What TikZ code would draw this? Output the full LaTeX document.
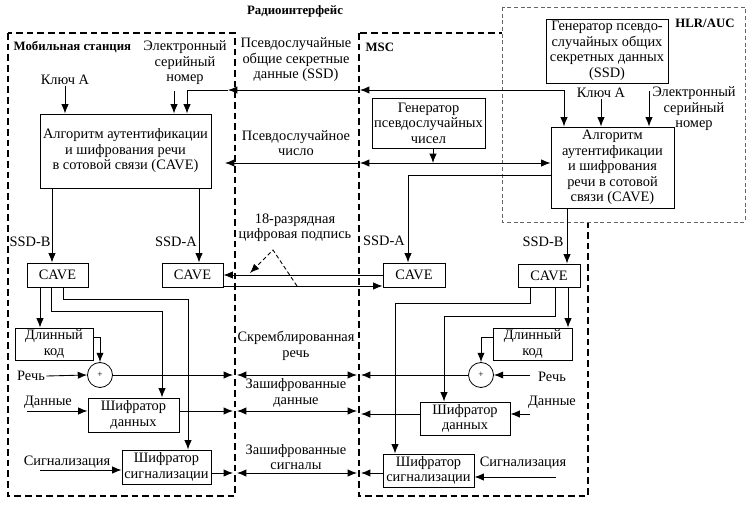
\documentclass[tikz,border=0pt]{standalone}
\usepackage{fontspec}
\setmainfont{Liberation Serif}
\usetikzlibrary{arrows.meta,calc}
\tikzset{
 every node/.style={font=\fontsize{10.8}{11.6}\selectfont},
 box/.style={draw, align=center, inner sep=0pt, line width=0.7pt},
 lbl/.style={align=center, inner sep=1pt},
 ttl/.style={font=\fontsize{9.6}{11.5}\selectfont\bfseries, inner sep=1pt},
 con/.style={line width=0.65pt},
 arr/.style={con, -{Latex[length=7pt,width=5.5pt]}},
 darr/.style={con, {Latex[length=7pt,width=5.5pt]}-{Latex[length=7pt,width=5.5pt]}},
 zone/.style={line width=1.2pt, dash pattern=on 5pt off 3pt},
 hlrzone/.style={line width=0.6pt, dash pattern=on 3pt off 2pt, draw=black!60, fill=white},
 plus/.style={draw, circle, minimum size=18.75pt, inner sep=0pt, line width=0.6pt, font=\fontsize{7}{8}\selectfont},
}
\begin{document}
\begin{tikzpicture}[x=0.75pt,y=-0.75pt]
\useasboundingbox[fill=white] (0,0) rectangle (752,505);
% zones
\draw[zone] (8,33) rectangle (235,496);
\draw[zone] (359,33) rectangle (588,496);
\draw[hlrzone] (502,7) rectangle (745,222);

% titles
\node[ttl] (tRadio) at (295,11) {Радиоинтерфейс};
\node[ttl, anchor=west] (tMS) at (12,47) {Мобильная станция};
\node[ttl, anchor=west] (tMSC) at (364,47) {MSC};
\node[ttl] (tHLR) at (705,23) {HLR/AUC};

% boxes
\node[box, minimum width=128.25pt, minimum height=55.5pt] (msCave) at (125.5,151) {Алгоритм аутентификации\\и шифрования речи\\в сотовой связи (CAVE)};
\node[box, minimum width=45.75pt, minimum height=18pt] (msCaveB) at (57.5,275) {CAVE};
\node[box, minimum width=45.75pt, minimum height=18pt] (msCaveA) at (192.5,275) {CAVE};
\node[box, minimum width=58.5pt, minimum height=24pt] (msLong) at (54,344) {Длинный\\код};
\node[box, minimum width=68.25pt, minimum height=25.5pt] (msData) at (133.5,415) {Шифратор\\данных};
\node[box, minimum width=66.75pt, minimum height=25.5pt] (msSig) at (166.5,467) {Шифратор\\сигнализации};
\node[box, minimum width=84.75pt, minimum height=37.5pt] (gen) at (428.5,123) {Генератор\\псевдослучайных\\чисел};
\node[box, minimum width=91.5pt, minimum height=48pt] (hlrGen) at (607,51) {Генератор псевдо-\\случайных общих\\секретных данных\\(SSD)};
\node[box, minimum width=92.25pt, minimum height=60.75pt] (hlrCave) at (612.5,167.5) {Алгоритм\\аутентификации\\и шифрования\\речи в сотовой\\связи (CAVE)};
\node[box, minimum width=46.5pt, minimum height=18pt] (mscCaveA) at (414,275) {CAVE};
\node[box, minimum width=46.5pt, minimum height=17.25pt] (mscCaveB) at (549,275.5) {CAVE};
\node[box, minimum width=59.25pt, minimum height=24pt] (mscLong) at (532.5,344) {Длинный\\код};
\node[box, minimum width=67.5pt, minimum height=24.75pt] (mscData) at (465,418.5) {Шифратор\\данных};
\node[box, minimum width=68.25pt, minimum height=24.75pt] (mscSig) at (428.5,470.5) {Шифратор\\сигнализации};
\node[plus] (msPlus) at (100,375) {+};
\node[plus] (mscPlus) at (481,375) {+};

% labels
\node[lbl] (msEsn) at (185,63) {Электронный\\серийный\\номер};
\node[lbl] (msKey) at (65,80) {Ключ А};
\node[lbl] (lSSD) at (296,60) {Псевдослучайные\\общие секретные\\данные (SSD)};
\node[lbl] (lNum) at (296,143) {Псевдослучайное\\число};
\node[lbl] (lSig18) at (295,228) {18-разрядная\\цифровая подпись};
\node[lbl] (lB1) at (30,242) {SSD-B};
\node[lbl] (lA1) at (176,242) {SSD-A};
\node[lbl] (lA2) at (384,241) {SSD-A};
\node[lbl] (lB2) at (543,242) {SSD-B};
\node[lbl] (hlrKey) at (601,93) {Ключ А};
\node[lbl] (hlrEsn) at (694,109) {Электронный\\серийный\\номер};
\node[lbl] (lScr) at (296,346) {Скремблированная\\речь};
\node[lbl] (lEncD) at (296,393) {Зашифрованные\\данные};
\node[lbl] (lEncS) at (296,457) {Зашифрованные\\сигналы};
\node[lbl] (msSpeech) at (31,376) {Речь};
\node[lbl] (msDataL) at (48,402) {Данные};
\node[lbl] (msSigL) at (67,462) {Сигнализация};
\node[lbl] (mscSpeech) at (552,377) {Речь};
\node[lbl] (mscDataL) at (552,402) {Данные};
\node[lbl] (mscSigL) at (523,463) {Сигнализация};

% coordinates
\coordinate (cSSD) at (564,90);
\coordinate (tSSD2) at (360,90);
\coordinate (tSSD1) at (228,90);
\coordinate (cSSDL) at (187,90);
\coordinate (esnA) at (174,91);
\coordinate (hesnA) at (649,91);
\coordinate (nL) at (225,163);
\coordinate (nM) at (360,163);
\coordinate (nGen) at (433,163);
\coordinate (aTurn) at (408,175);
\coordinate (bTop) at (567,208);
\coordinate (msBx) at (52,200);
\coordinate (msAx) at (199,200);
\coordinate (sigU) at (300,275);
\coordinate (sigD) at (300,286);
\coordinate (sA) at (297,286);
\coordinate (sB) at (273,250);
\coordinate (sC) at (250,273);
\coordinate (o1) at (40,290);
\coordinate (o2) at (51,311);
\coordinate (o2x) at (162,311);
\coordinate (o3) at (63,299);
\coordinate (o3x) at (188,299);
\coordinate (l1) at (100,337);
\coordinate (p1) at (530,303);
\coordinate (p1x) at (395,303);
\coordinate (p2) at (555,316);
\coordinate (p2x) at (444,316);
\coordinate (p3) at (568,300);
\coordinate (l2) at (481,337);
\coordinate (sp1) at (233,375);
\coordinate (sp2) at (237,375);
\coordinate (sp3) at (357,375);
\coordinate (sp4) at (361,375);
\coordinate (d1) at (233,411);
\coordinate (d2) at (237,411);
\coordinate (d3) at (357,411);
\coordinate (d4) at (361,414);
\coordinate (g1) at (233,473);
\coordinate (g2) at (237,473);
\coordinate (g3) at (357,473);
\coordinate (g4) at (361,473);
\coordinate (dIn) at (27,411);
\coordinate (gIn) at (40,470);
\coordinate (mspIn) at (530,375);
\coordinate (mdIn) at (530,414);
\coordinate (mgIn) at (556,477);

% SSD line
\draw[arr] (cSSD) -- (tSSD2);
\draw[arr] (tSSD2) -- (tSSD1);
\draw[arr] (tSSD1) -- (cSSDL) -- (cSSDL |- msCave.north);
\draw[arr] (cSSD) -- (cSSD |- hlrCave.north);
% keys and ESN
\draw[arr] (msKey.south) -- (msKey.south |- msCave.north);
\draw[arr] (esnA) -- (esnA |- msCave.north);
\draw[arr] (hlrKey.south) -- (hlrKey.south |- hlrCave.north);
\draw[arr] (hesnA) -- (hesnA |- hlrCave.north);
% random number
\draw[arr] (nGen |- gen.south) -- (nGen);
\draw[arr] (nGen) -- (nM);
\draw[arr] (nM) -- (nL);
\draw[arr] (nGen) -- (nGen -| hlrCave.west);
% SSD-A / SSD-B
\draw[arr] (hlrCave.west |- aTurn) -- (aTurn) -- (aTurn |- mscCaveA.north);
\draw[arr] (bTop) -- (bTop |- mscCaveB.north);
\draw[arr] (msBx |- msCave.south) -- (msBx |- msCaveB.north);
\draw[arr] (msAx |- msCave.south) -- (msAx |- msCaveA.north);
% signature
\draw[arr] (mscCaveA.west |- sigU) -- (msCaveA.east |- sigU);
\draw[arr] (msCaveA.east |- sigD) -- (mscCaveA.west |- sigD);
\draw[arr, dash pattern=on 3pt off 2pt] (sA) -- (sB) -- (sC);
% MS lower part
\draw[arr] (o1 |- msCaveB.south) -- (o1 |- msLong.north);
\draw[arr] (o2 |- msCaveB.south) -- (o2) -- (o2x) -- (o2x |- msData.north);
\draw[arr] (o3 |- msCaveB.south) -- (o3) -- (o3x) -- (o3x |- msSig.north);
\draw[arr] (msLong.east |- l1) -- (l1) -- (msPlus.north);
\draw[arr] (msSpeech.east) -- (msPlus.west);
\draw[arr] (dIn) -- (msData.west |- dIn);
\draw[arr] (gIn) -- (msSig.west |- gIn);
\draw[arr] (msPlus.east) -- (sp1);
\draw[arr] (msData.east |- d1) -- (d1);
\draw[arr] (msSig.east |- g1) -- (g1);
% radio interface
\draw[darr] (sp2) -- (sp3);
\draw[darr] (d2) -- (d3);
\draw[darr] (g2) -- (g3);
% MSC lower part
\draw[arr] (p1 |- mscCaveB.south) -- (p1) -- (p1x) -- (p1x |- mscSig.north);
\draw[arr] (p2 |- mscCaveB.south) -- (p2) -- (p2x) -- (p2x |- mscData.north);
\draw[arr] (p3 |- mscCaveB.south) -- (p3 |- mscLong.north);
\draw[arr] (mscLong.west |- l2) -- (l2) -- (mscPlus.north);
\draw[arr] (mspIn) -- (mscPlus.east);
\draw[arr] (mdIn) -- (mscData.east |- mdIn);
\draw[arr] (mgIn) -- (mscSig.east |- mgIn);
\draw[arr] (mscPlus.west) -- (sp4);
\draw[arr] (mscData.west |- d4) -- (d4);
\draw[arr] (mscSig.west |- g4) -- (g4);
\end{tikzpicture}
\end{document}
